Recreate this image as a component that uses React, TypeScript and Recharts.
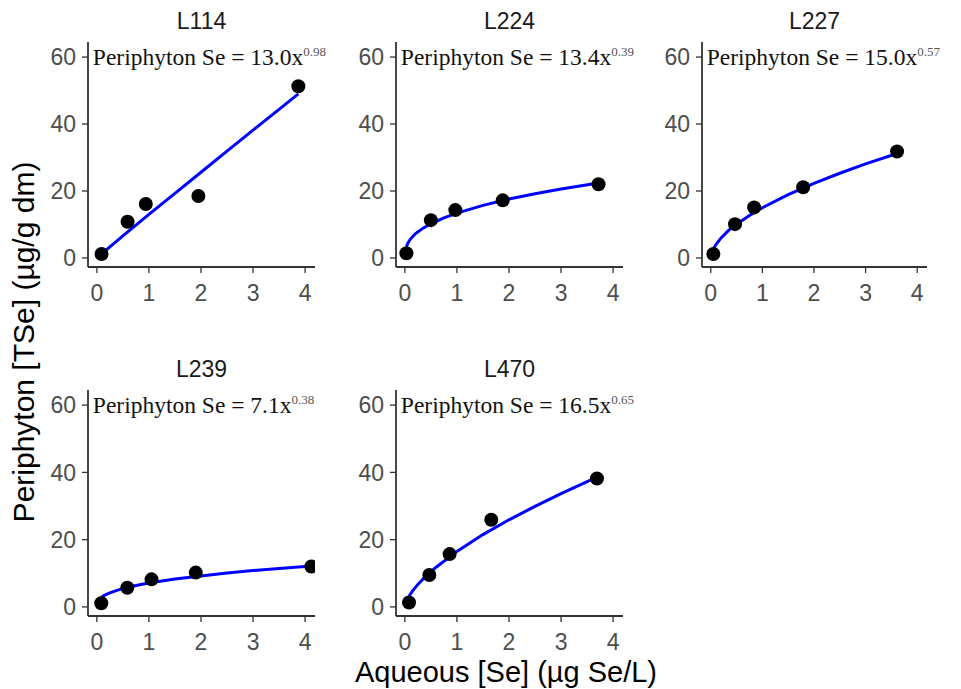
import React from "react";
import {
  ScatterChart,
  Scatter,
  XAxis,
  YAxis,
  ReferenceDot,
} from "recharts";

// lakes in facet order
const lakes = ["L114", "L224", "L227", "L239", "L470"];

// observed points (aqueous Se, periphyton TSe)
const aqL114 = [0.09, 0.59, 0.94, 1.95, 3.87];
const tseL114 = [1.2, 10.8, 16.1, 18.5, 51.3];
const aqL224 = [0.03, 0.5, 0.97, 1.88, 3.72];
const tseL224 = [1.4, 11.3, 14.3, 17.2, 22.0];
const aqL227 = [0.05, 0.47, 0.84, 1.79, 3.61];
const tseL227 = [1.2, 10.1, 15.1, 21.1, 31.8];
const aqL239 = [0.085, 0.585, 1.05, 1.9, 4.12];
const tseL239 = [1.1, 5.7, 8.2, 10.2, 12.0];
const aqL470 = [0.08, 0.47, 0.86, 1.66, 3.69];
const tseL470 = [1.3, 9.5, 15.7, 25.9, 38.2];

// fitted curve
const fitXL114 = [0.09, 0.5, 1, 1.5, 2, 2.5, 3, 3.5, 3.87];
const fitYL114 = [1.2, 6.6, 13.0, 19.3, 25.6, 31.9, 38.2, 44.4, 49.0];
const fitXL224 = [0.03, 0.06, 0.1, 0.2, 0.35, 0.5, 0.75, 1, 1.5, 2, 2.5, 3, 3.72];
const fitYL224 = [3.4, 4.5, 5.5, 7.2, 8.9, 10.2, 12.0, 13.4, 15.7, 17.6, 19.2, 20.6, 22.4];
const fitXL227 = [0.05, 0.1, 0.2, 0.35, 0.5, 0.75, 1, 1.5, 2, 2.5, 3, 3.61];
const fitYL227 = [2.7, 4.0, 6.0, 8.3, 10.1, 12.7, 15.0, 18.9, 22.3, 25.3, 28.1, 31.2];
const fitXL239 = [0.085, 0.15, 0.25, 0.4, 0.6, 1, 1.5, 2, 2.5, 3, 3.5, 4.12];
const fitYL239 = [2.8, 3.5, 4.2, 5.0, 5.9, 7.1, 8.3, 9.2, 10.1, 10.8, 11.4, 12.2];
const fitXL470 = [0.08, 0.15, 0.25, 0.4, 0.6, 1, 1.5, 2, 2.5, 3, 3.69];
const fitYL470 = [3.2, 4.8, 6.7, 9.1, 11.8, 16.5, 21.5, 25.9, 29.9, 33.7, 38.6];

const coefs = ["13.0", "13.4", "15.0", "7.1", "16.5"];
const exps = ["0.98", "0.39", "0.57", "0.38", "0.65"];

const xTicks = [0, 1, 2, 3, 4];
const yTicks = [0, 20, 40, 60];

const zip = (xs: number[], ys: number[]) => xs.map((x, i) => ({ x, y: ys[i] }));

const points = [
  zip(aqL114, tseL114),
  zip(aqL224, tseL224),
  zip(aqL227, tseL227),
  zip(aqL239, tseL239),
  zip(aqL470, tseL470),
];
const fits = [
  zip(fitXL114, fitYL114),
  zip(fitXL224, fitYL224),
  zip(fitXL227, fitYL227),
  zip(fitXL239, fitYL239),
  zip(fitXL470, fitYL470),
];

// panel layout: y-axis x position, plot top, plot width, plot height
const layout = [
  { ax: 88, top: 42, w: 227, h: 225 },
  { ax: 396, top: 42, w: 227, h: 225 },
  { ax: 702, top: 42, w: 225, h: 225 },
  { ax: 88, top: 390, w: 227, h: 226 },
  { ax: 396, top: 390, w: 227, h: 226 },
];

const SANS = "'Liberation Sans', Arial, sans-serif";
const SERIF = "'Liberation Serif', 'Times New Roman', serif";
const Y_W = 50;
const M_TOP = 10;

const noDot = () => <g />;

const Panel = ({ idx }: { idx: number }) => {
  const l = layout[idx];
  const width = Y_W + l.w + 4;
  const height = M_TOP + l.h + 44;
  return (
    <>
      <div
        style={{
          position: "absolute",
          left: l.ax,
          width: l.w,
          top: l.top - 33,
          textAlign: "center",
          fontFamily: SANS,
          fontSize: 23,
          lineHeight: "24px",
          color: "#1a1a1a",
        }}
      >
        {lakes[idx]}
      </div>
      <div style={{ position: "absolute", left: l.ax - Y_W, top: l.top - M_TOP }}>
        <ScatterChart
          width={width}
          height={height}
          margin={{ top: M_TOP, right: 4, bottom: 0, left: 0 }}
        >
          <XAxis
            type="number"
            dataKey="x"
            domain={[-0.17, 4.19]}
            ticks={xTicks}
            allowDataOverflow
            height={44}
            tickSize={6}
            tickMargin={12}
            axisLine={{ stroke: "#333", strokeWidth: 1.8 }}
            tickLine={{ stroke: "#333", strokeWidth: 1.3 }}
            tick={{ fill: "#4d4d4d", fontSize: 23, fontFamily: SANS }}
          />
          <YAxis
            type="number"
            dataKey="y"
            domain={[-2.7, 64.5]}
            ticks={yTicks}
            allowDataOverflow
            width={Y_W}
            tickSize={6}
            tickMargin={6}
            axisLine={{ stroke: "#333", strokeWidth: 1.8 }}
            tickLine={{ stroke: "#333", strokeWidth: 1.3 }}
            tick={{ fill: "#4d4d4d", fontSize: 23, fontFamily: SANS }}
          />
          <Scatter
            data={fits[idx]}
            line={{ stroke: "#0000ff", strokeWidth: 3 }}
            shape={noDot}
            isAnimationActive={false}
          />
          <Scatter
            data={points[idx]}
            fill="#000"
            shape={(p: any) => <circle cx={p.cx} cy={p.cy} r={7} fill="#000" />}
            isAnimationActive={false}
          />
          <ReferenceDot
            x={0}
            y={60}
            r={0}
            ifOverflow="visible"
            shape={(p: any) => (
              <text
                x={p.cx - 4}
                y={p.cy}
                dy="0.35em"
                fontFamily={SERIF}
                fontSize={23.5}
                fill="#111"
              >
                {"Periphyton Se = " + coefs[idx] + "x"}
                <tspan dy="-0.75em" fontSize={13} fill="#555">
                  {exps[idx]}
                </tspan>
              </text>
            )}
          />
        </ScatterChart>
      </div>
    </>
  );
};

export default function App() {
  return (
    <div
      style={{
        position: "absolute",
        left: 0,
        top: 0,
        width: 961,
        height: 689,
        background: "#fff",
        overflow: "hidden",
      }}
    >
      <style>{"svg{overflow:visible}"}</style>
      {lakes.map((_, i) => (
        <Panel key={i} idx={i} />
      ))}
      <div
        style={{
          position: "absolute",
          left: 24,
          top: 342,
          transform: "translate(-50%, -50%) rotate(-90deg)",
          whiteSpace: "nowrap",
          fontFamily: SANS,
          fontSize: 30,
          color: "#000",
        }}
      >
        Periphyton [TSe] (µg/g dm)
      </div>
      <div
        style={{
          position: "absolute",
          left: 506,
          top: 672,
          transform: "translate(-50%, -50%)",
          whiteSpace: "nowrap",
          fontFamily: SANS,
          fontSize: 29,
          color: "#000",
        }}
      >
        Aqueous [Se] (µg Se/L)
      </div>
    </div>
  );
}
